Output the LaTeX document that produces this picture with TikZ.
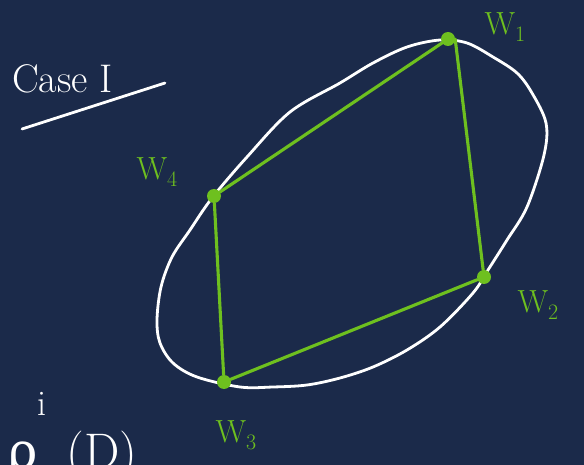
\documentclass[tikz,border=0pt]{standalone}
\usepackage{fontspec}
\newfontfamily\greekfont{DejaVu Serif}
\usepackage{tikz}
\usetikzlibrary{positioning}
\definecolor{boardnavy}{HTML}{1B2A4A}
\definecolor{chalkgreen}{HTML}{6EC01F}
\newcommand{\lowidx}[1]{\raisebox{-0.22em}{\fontsize{22}{22}\selectfont #1}}

\begin{document}
\begin{tikzpicture}[x=1pt,y=-1pt,
    chalk/.style={white,line width=2.8pt,line cap=round,line join=round},
    edge/.style={chalkgreen,line width=3.1pt,line cap=round},
    vertex/.style={circle,fill=chalkgreen,inner sep=0pt,minimum size=14pt},
    wlabel/.style={text=chalkgreen,inner sep=0pt,font=\fontsize{32}{32}\selectfont}]
  \clip (0,0) rectangle (584,465);
  \fill[boardnavy] (0,0) rectangle (584,465);

  % Heading, underlined.
  \node[text=white,anchor=base west,inner sep=0pt,font=\fontsize{40}{40}\selectfont]
    (heading) at (12,93) {Case I};
  \draw[chalk] (22,129) -- (165,83);

  % Hand-drawn tilted ellipse.
  \draw[chalk] plot[smooth cycle,tension=0.55] coordinates {
    (440,40) (467,43) (493,57) (517,73) (532,93) (546,123) (544,155)
    (527,207) (507,240) (488,270) (473,293) (440,327) (407,350) (373,367)
    (340,378) (307,385) (273,387) (240,387) (197,377) (173,363) (160,343)
    (157,320) (161,287) (172,257) (190,230) (212,198) (247,157) (290,112)
    (340,83) (373,63) (407,47)};

  % Inscribed quadrilateral W1 W2 W3 W4.
  \node[vertex] (w1) at (448,39) {};
  \node[vertex] (w2) at (484,277) {};
  \node[vertex] (w3) at (224,382) {};
  \node[vertex] (w4) at (214,196) {};
  \draw[edge] (w4) -- (w1);
  \draw[edge] (w1.east) -- (w2);
  \draw[edge] (w2) -- (w3);
  \draw[edge] (w3) -- (w4);

  \node[wlabel] (lw1) at (505,27) {W\lowidx{1}};
  \node[wlabel] (lw2) at (538,305) {W\lowidx{2}};
  \node[wlabel] (lw3) at (236,435) {W\lowidx{3}};
  \node[wlabel] (lw4) at (157,172) {W\lowidx{4}};

  % Cut-off formula at the bottom edge.
  \node[text=white,anchor=base west,inner sep=0pt,font=\fontsize{50}{50}\selectfont]
    (density) at (8,468)
    {{\greekfont ρ}\raisebox{1.05em}{\fontsize{36}{36}\selectfont i}\hspace{0.4em}(D)};
\end{tikzpicture}
\end{document}
